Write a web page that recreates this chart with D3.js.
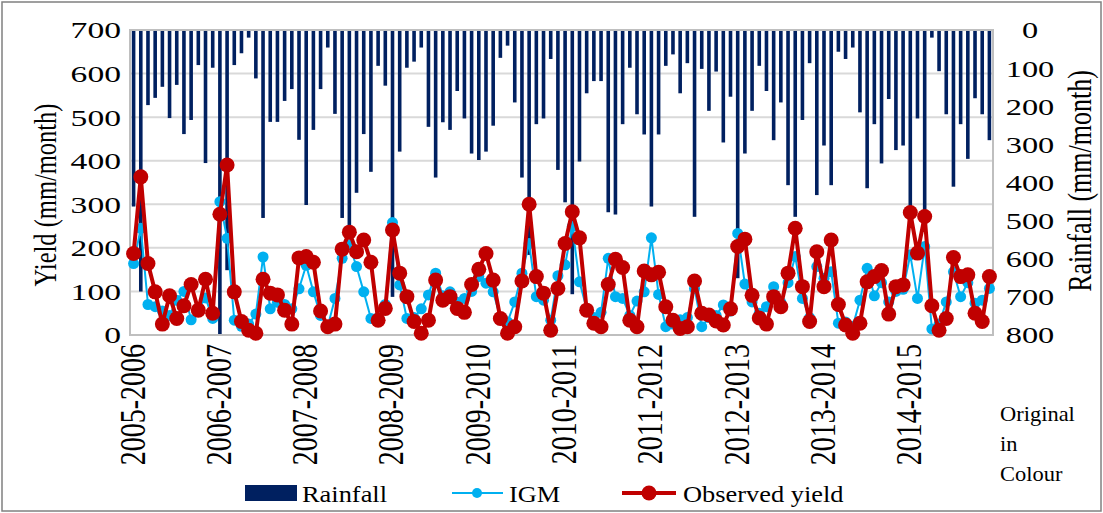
<!DOCTYPE html>
<html>
<head>
<meta charset="utf-8">
<script src="https://cdn.jsdelivr.net/npm/d3@7"></script>
<style>
  html, body { margin: 0; padding: 0; background: #fff; }
</style>
</head>
<body>
<svg id="chart" width="1103" height="513" font-family="'Liberation Serif', 'DejaVu Serif', serif"></svg>
<script>
// Seasons shown on the category axis (one label per 12 months)
const seasons = ["2005-2006","2006-2007","2007-2008","2008-2009","2009-2010",
                 "2010-2011","2011-2012","2012-2013","2013-2014","2014-2015"];

// Monthly rainfall (mm/month), 120 months
const rainfall = [
  463,686,197,178,149,231,144,273,236,92,349,99,
  800,630,92,61,20,127,493,241,241,186,155,288,
  459,262,155,46,220,493,529,427,273,372,94,146,
  700,319,99,83,46,254,387,242,262,160,232,324,
  341,319,251,73,41,190,387,590,247,232,76,367,
  452,693,345,166,134,134,478,484,247,99,221,274,
  463,274,94,64,166,87,490,102,212,109,295,175,
  651,324,212,94,160,289,190,407,490,236,87,433,
  303,407,57,76,46,216,415,247,350,181,315,303,
  476,232,485,20,108,221,411,247,338,179,221,289
];

// Simulated yield from IGM (mm/month)
const igm = [
  164,245,70,65,55,45,80,100,35,60,85,38,
  306,222,34,20,25,48,179,60,75,70,60,106,
  160,99,45,20,84,176,207,157,99,38,40,70,
  258,115,38,40,60,92,142,90,99,75,84,100,
  134,119,99,40,30,76,142,210,88,80,34,136,
  161,249,122,60,40,52,176,88,84,45,78,99,
  223,93,19,25,35,40,107,19,40,45,69,55,
  233,117,76,50,65,111,75,120,180,84,40,157,
  130,145,27,30,20,80,153,90,120,76,100,105,
  184,84,203,14,25,76,145,88,120,73,80,107
];

// Observed yield (mm/month)
const observed = [
  187,363,164,99,25,90,38,67,116,57,128,50,
  277,390,99,31,11,4,128,96,92,57,25,177,
  180,167,55,19,25,197,236,191,218,167,34,61,
  241,142,88,31,4,34,126,80,88,61,52,116,
  151,187,126,38,4,19,124,300,134,96,11,107,
  210,283,223,57,27,19,116,174,155,34,19,147,
  138,144,65,34,15,19,124,50,46,32,23,60,
  203,220,91,39,25,88,65,142,245,111,31,191,
  111,218,70,23,4,27,122,134,148,48,111,115,
  281,188,272,67,11,38,178,134,138,50,31,134
];

const yieldTicks = [0,100,200,300,400,500,600,700];
const rainTicks = [0,100,200,300,400,500,600,700,800];

const svg = d3.select("#chart");
const W = 1103, H = 513;
const plot = { left: 130, right: 993, top: 30, bottom: 335 };

const months = d3.range(rainfall.length);
const x = d3.scaleBand().domain(months).range([plot.left, plot.right]).padding(0);
const cx = i => x(i) + x.bandwidth() / 2;
const yLeft = d3.scaleLinear().domain([0, 700]).range([plot.bottom, plot.top]);
const yRight = d3.scaleLinear().domain([0, 800]).range([plot.top, plot.bottom]);

// outer frame
svg.append("rect").attr("x", 2).attr("y", 2).attr("width", W - 4).attr("height", H - 4)
  .attr("fill", "none").attr("stroke", "#808080").attr("stroke-width", 1.5);

svg.append("defs").append("clipPath").attr("id", "plotClip")
  .append("rect").attr("x", plot.left).attr("y", plot.top)
  .attr("width", plot.right - plot.left).attr("height", plot.bottom - plot.top);

// horizontal gridlines
svg.append("g").selectAll("line").data(yieldTicks.filter(t => t > 0 && t < 700)).join("line")
  .attr("x1", plot.left).attr("x2", plot.right)
  .attr("y1", d => yLeft(d)).attr("y2", d => yLeft(d))
  .attr("stroke", "#d9d9d9").attr("stroke-width", 2);

// rainfall bars hanging from the top
const barW = x.bandwidth() * 0.5;
svg.append("g").attr("clip-path", "url(#plotClip)").selectAll("rect").data(rainfall).join("rect")
  .attr("x", (d, i) => cx(i) - barW / 2)
  .attr("y", yRight(0))
  .attr("width", barW)
  .attr("height", d => yRight(d) - yRight(0))
  .attr("fill", "#002060");

// plot area border
svg.append("rect").attr("x", plot.left).attr("y", plot.top)
  .attr("width", plot.right - plot.left).attr("height", plot.bottom - plot.top)
  .attr("fill", "none").attr("stroke", "#bfbfbf").attr("stroke-width", 2);

// IGM series
const lineGen = d3.line().x((d, i) => cx(i)).y(d => yLeft(d));
svg.append("path").datum(igm).attr("d", lineGen)
  .attr("fill", "none").attr("stroke", "#00b0f0").attr("stroke-width", 2).attr("stroke-linejoin", "round");
svg.append("g").selectAll("circle").data(igm).join("circle")
  .attr("cx", (d, i) => cx(i)).attr("cy", d => yLeft(d)).attr("r", 5.5)
  .attr("fill", "#00b0f0");

// Observed yield series
svg.append("path").datum(observed).attr("d", lineGen)
  .attr("fill", "none").attr("stroke", "#c00000").attr("stroke-width", 4).attr("stroke-linejoin", "round");
svg.append("g").selectAll("circle").data(observed).join("circle")
  .attr("cx", (d, i) => cx(i)).attr("cy", d => yLeft(d)).attr("r", 7.5)
  .attr("fill", "#c00000");

// serif text, widened horizontally by sx
function wideText(sel, x0, y0, size, sx) {
  return sel.append("text")
    .attr("transform", `translate(${x0},${y0}) scale(${sx},1)`)
    .attr("font-size", size);
}

// left axis labels
yieldTicks.forEach(t => {
  wideText(svg, 121, yLeft(t), 24, 1.4).attr("dy", "0.35em").attr("text-anchor", "end").text(t);
});

// right axis labels
rainTicks.forEach(t => {
  wideText(svg, 1030, yRight(t), 24, 1.35).attr("dy", "0.35em").attr("text-anchor", "middle").text(t);
});

// season labels, one per 12 months (rotated, glyphs widened across the axis)
svg.append("g").selectAll("text").data(seasons).join("text")
  .attr("transform", (d, k) => `translate(${cx(k * 12) + 11},344) scale(1.25,1) rotate(-90)`)
  .attr("text-anchor", "end").attr("font-size", 28).text(d => d);

// axis titles
svg.append("text").attr("transform", `translate(56,195) scale(1.3,1) rotate(-90)`)
  .attr("text-anchor", "middle").attr("font-size", 24.5).text("Yield  (mm/month)");
svg.append("text").attr("transform", `translate(1091,181) scale(1.3,1) rotate(-90)`)
  .attr("text-anchor", "middle").attr("font-size", 26).text("Rainfall (mm/month)");

// side note
["Original", "in", "Colour"].forEach((t, k) => {
  wideText(svg, 1000, 421 + k * 30, 21, 1.07).text(t);
});

// legend
const lg = svg.append("g");
lg.append("rect").attr("x", 245).attr("y", 485).attr("width", 52).attr("height", 16).attr("fill", "#002060");
wideText(lg, 302, 502, 24, 1.1).text("Rainfall");
lg.append("line").attr("x1", 452).attr("x2", 503).attr("y1", 493).attr("y2", 493)
  .attr("stroke", "#00b0f0").attr("stroke-width", 2);
lg.append("circle").attr("cx", 477).attr("cy", 493).attr("r", 5).attr("fill", "#00b0f0");
wideText(lg, 509, 502, 24, 1.1).text("IGM");
lg.append("line").attr("x1", 622).attr("x2", 676).attr("y1", 493).attr("y2", 493)
  .attr("stroke", "#c00000").attr("stroke-width", 4);
lg.append("circle").attr("cx", 649).attr("cy", 493).attr("r", 7.5).attr("fill", "#c00000");
wideText(lg, 683, 502, 24, 1.1).text("Observed yield");
</script>
</body>
</html>
